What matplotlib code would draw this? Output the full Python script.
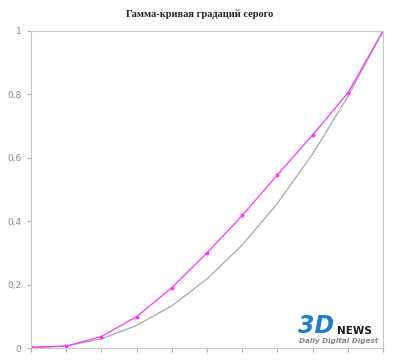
import matplotlib
matplotlib.use("Agg")
import matplotlib.pyplot as plt

# data
steps = list(range(11))
measured = [0.003, 0.006, 0.036, 0.099, 0.19, 0.30, 0.418, 0.546, 0.672, 0.804, 1.0]
reference = [0.0, 0.006, 0.029, 0.071, 0.133, 0.218, 0.325, 0.456, 0.612, 0.793, 1.0]
yticks = [0, 0.2, 0.4, 0.6, 0.8, 1]
ylabels = ["0", "0,2", "0,4", "0,6", "0,8", "1"]

fig = plt.figure(figsize=(4, 3.64), dpi=100)
ax = fig.add_axes([31 / 400, 16 / 364, 352 / 400, 317 / 364])

ax.plot(steps, reference, color="#a8a8a8", lw=0.9)
ax.plot(steps, measured, color="#ff33ff", lw=0.9, marker="o", ms=1.8)

ax.set_xlim(0, 10)
ax.set_ylim(0, 1)
ax.set_xticks(steps)
ax.set_xticklabels([])
ax.set_yticks(yticks)
ax.set_yticklabels(ylabels)
ax.tick_params(axis="both", colors="#b0b0b0", length=3, width=0.8,
               labelsize=6.5, labelcolor="#8a8a8a", pad=4)
for s in ax.spines.values():
    s.set_color("#c8c8c8")
    s.set_linewidth(0.8)

fig.text(0.5, 0.962, "Гамма-кривая градаций серого", ha="center", va="center",
         family="Liberation Serif", weight="bold", fontsize=7.5, color="#222222")

# watermark
fig.text(298 / 400, 1 - 326 / 364, "3D", ha="left", va="center", color="#1f7fc4",
         fontsize=17, weight="bold", style="italic", family="DejaVu Sans")
fig.text(337 / 400, 1 - 331 / 364, "NEWS", ha="left", va="center", color="#1a1a1a",
         fontsize=7.5, weight="bold", family="DejaVu Sans")
fig.text(299 / 400, 1 - 341 / 364, "Daily Digital Digest", ha="left", va="center",
         color="#888888", fontsize=5.2, style="italic", weight="bold", family="DejaVu Sans")

fig.savefig("out.png", dpi=100)
